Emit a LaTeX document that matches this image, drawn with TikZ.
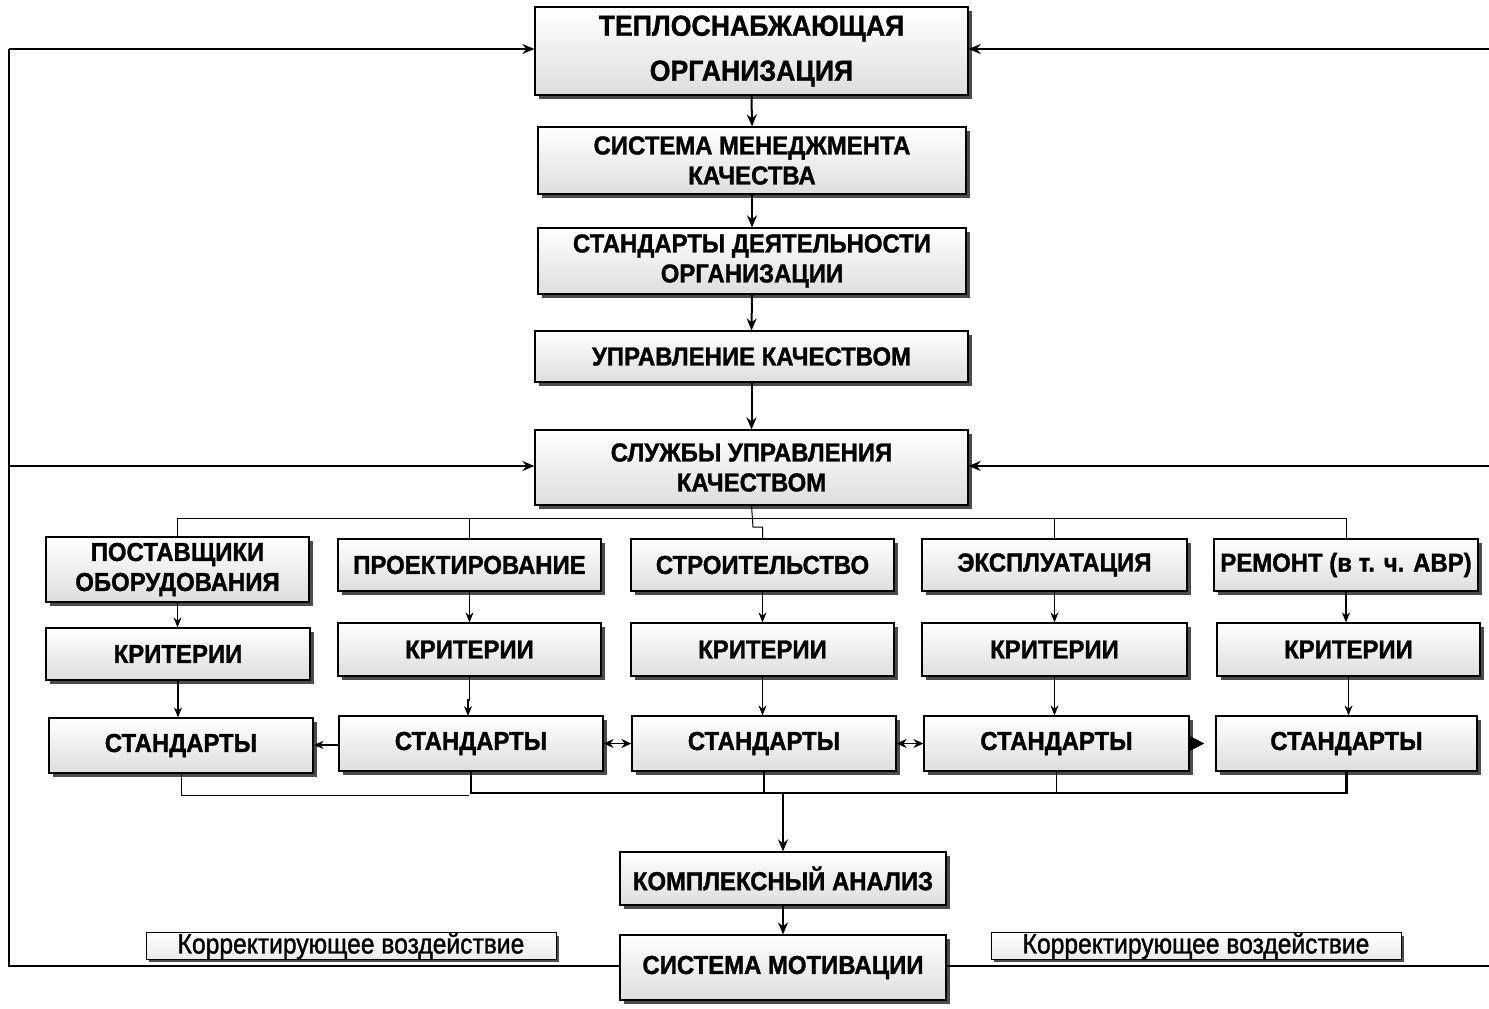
\documentclass[tikz,border=0pt]{standalone}
\usepackage{fontspec}
\setmainfont{Liberation Sans}
\newfontfamily\boxfont{Liberation Sans}[FakeStretch=0.92, FakeBold=1.2]
\newfontfamily\notefont{Liberation Sans}[FakeStretch=0.88, FakeBold=1.2]
\usetikzlibrary{shadows,arrows.meta}
\begin{document}
\begin{tikzpicture}[x=1pt,y=-1pt,
  box/.style={draw=black, line width=1.2pt, rectangle, top color=white, bottom color=black!13,
    drop shadow={shadow xshift=3.5pt, shadow yshift=-3.5pt, fill=black!70, opacity=1},
    font=\boxfont\fontsize{26}{30}\selectfont\bfseries, align=center, inner sep=0pt},
  notebox/.style={draw=black, line width=0.8pt, rectangle, top color=white, bottom color=black!8,
    drop shadow={shadow xshift=3pt, shadow yshift=-3pt, fill=black!70, opacity=1},
    font=\notefont\fontsize{28}{28}\selectfont, align=center, inner sep=0pt},
  arr/.style={-{Stealth[length=12pt,width=10pt]}, line width=2pt},
  tarr/.style={-{Stealth[length=10pt,width=8pt]}, line width=1.2pt},
  darr/.style={{Stealth[length=10pt,width=9pt]}-{Stealth[length=10pt,width=9pt]}, line width=1.5pt},
  fb/.style={line width=2pt},
  thin/.style={line width=1pt}
]
\useasboundingbox (0,0) rectangle (1489,1009);

% top column
\node[box, minimum width=433, minimum height=88, font=\boxfont\fontsize{29}{45}\selectfont\bfseries] (t1) at (751.5,51) {ТЕПЛОСНАБЖАЮЩАЯ\\ОРГАНИЗАЦИЯ};
\node[box, minimum width=428, minimum height=67] (t2) at (752,160.5) {СИСТЕМА МЕНЕДЖМЕНТА\\КАЧЕСТВА};
\node[box, minimum width=428, minimum height=66] (t3) at (752,261) {СТАНДАРТЫ ДЕЯТЕЛЬНОСТИ\\ОРГАНИЗАЦИИ};
\node[box, minimum width=433, minimum height=51] (t4) at (751.5,356.5) {УПРАВЛЕНИЕ КАЧЕСТВОМ};
\node[box, minimum width=433, minimum height=75] (t5) at (751.5,467.5) {СЛУЖБЫ УПРАВЛЕНИЯ\\КАЧЕСТВОМ};

\draw[arr] (t1.south) -- (t2.north);
\draw[arr] (t2.south) -- (t3.north);
\draw[arr] (t3.south) -- (t4.north);
\draw[arr] (t4.south) -- (t5.north);

% departments
\node[box, minimum width=263, minimum height=65] (a1) at (177.5,569.5) {ПОСТАВЩИКИ\\ОБОРУДОВАНИЯ};
\node[box, minimum width=263, minimum height=52] (a2) at (469.5,565) {ПРОЕКТИРОВАНИЕ};
\node[box, minimum width=263, minimum height=52] (a3) at (762.5,565) {СТРОИТЕЛЬСТВО};
\node[box, minimum width=265, minimum height=52] (a4) at (1054.5,565) {ЭКСПЛУАТАЦИЯ};
\node[box, minimum width=264, minimum height=52] (a5) at (1346,565) {РЕМОНТ (в т. ч. АВР)};

% criteria
\node[box, minimum width=264, minimum height=52] (b1) at (178,654) {КРИТЕРИИ};
\node[box, minimum width=263, minimum height=53] (b2) at (469.5,649.5) {КРИТЕРИИ};
\node[box, minimum width=263, minimum height=53] (b3) at (762.5,649.5) {КРИТЕРИИ};
\node[box, minimum width=265, minimum height=53] (b4) at (1054.5,649.5) {КРИТЕРИИ};
\node[box, minimum width=263, minimum height=53] (b5) at (1348.5,649.5) {КРИТЕРИИ};

% standards
\node[box, minimum width=264, minimum height=55] (c1) at (181,745.5) {СТАНДАРТЫ};
\node[box, minimum width=264, minimum height=55] (c2) at (471,743.5) {СТАНДАРТЫ};
\node[box, minimum width=264, minimum height=55] (c3) at (764,743.5) {СТАНДАРТЫ};
\node[box, minimum width=265, minimum height=55] (c4) at (1056.5,743.5) {СТАНДАРТЫ};
\node[box, minimum width=261, minimum height=55] (c5) at (1346.5,743.5) {СТАНДАРТЫ};

% bottom
\node[box, minimum width=326, minimum height=53] (k) at (783,878.5) {КОМПЛЕКСНЫЙ АНАЛИЗ};
\node[box, minimum width=326, minimum height=65] (m) at (783,967.5) {СИСТЕМА МОТИВАЦИИ};
\node[notebox, minimum width=410, minimum height=22] (nl) at (351,946) {Корректирующее воздействие};
\node[notebox, minimum width=410, minimum height=22] (nr) at (1196,946) {Корректирующее воздействие};

% branch bus from quality services
\coordinate (jog1) at (753,527);
\draw[thin] (t5.south) -- (jog1) -- (jog1 -| a3.north) -- (a3.north);
\draw[thin] (a1.north) -- (a1.north |- 0,518) -- (a5.north |- 0,518) -- (a5.north);
\draw[thin] (a2.north |- 0,518) -- (a2.north);
\draw[thin] (a4.north |- 0,518) -- (a4.north);

% column arrows
\foreach \i in {1,...,5}{
  \draw[tarr] (a\i.south) -- (a\i.south |- b\i.north);
}
\draw[tarr] (b1.south) -- (b1.south |- c1.north);
\draw[tarr] (b2.south) -- (b2.south |- 0,700) -- (468,700) -- (468,716);
\draw[tarr] (b3.south) -- (b3.south |- c3.north);
\draw[tarr] (b4.south) -- (b4.south |- c4.north);
\draw[tarr] (b5.south) -- (b5.south |- c5.north);

% arrows between standards
\draw[tarr] (c2.west |- 0,745) -- (c1.east |- 0,745);
\draw[darr] (c2.east) -- (c3.west);
\draw[darr] (c3.east) -- (c4.west);
\draw[-{Triangle[length=15pt,width=15pt]}, line width=1.2pt, shorten >=11pt] (c4.east) -- (c5.west);

% collecting bus
\coordinate (busm) at (783,793);
\draw[thin] (c1.south) -- (c1.south |- 0,795) -- (469,795);
\draw[line width=2.2pt] (c2.south) -- (c2.south |- busm) -- (c5.south |- busm) -- (c5.south);
\draw[line width=1.6pt] (c3.south) -- (c3.south |- busm);
\draw[line width=1.6pt] (c4.south) -- (c4.south |- busm);
\draw[arr] (busm) -- (k.north);
\draw[arr] (k.south) -- (m.north);

% feedback loops
\coordinate (lb) at (9,966);
\coordinate (lt) at (9,49);
\coordinate (lm) at (9,466);
\coordinate (rb) at (1489,966);
\coordinate (rt) at (1489,49);
\coordinate (rm) at (1489,466);
\draw[fb] (m.west |- lb) -- (lb) -- (lt);
\draw[arr] (lt) -- (t1.west |- lt);
\draw[arr] (lm) -- (t5.west |- lm);
\draw[fb] (m.east |- rb) -- (rb);
\draw[arr] (rt) -- (t1.east |- rt);
\draw[arr] (rm) -- (t5.east |- rm);
\end{tikzpicture}
\end{document}
